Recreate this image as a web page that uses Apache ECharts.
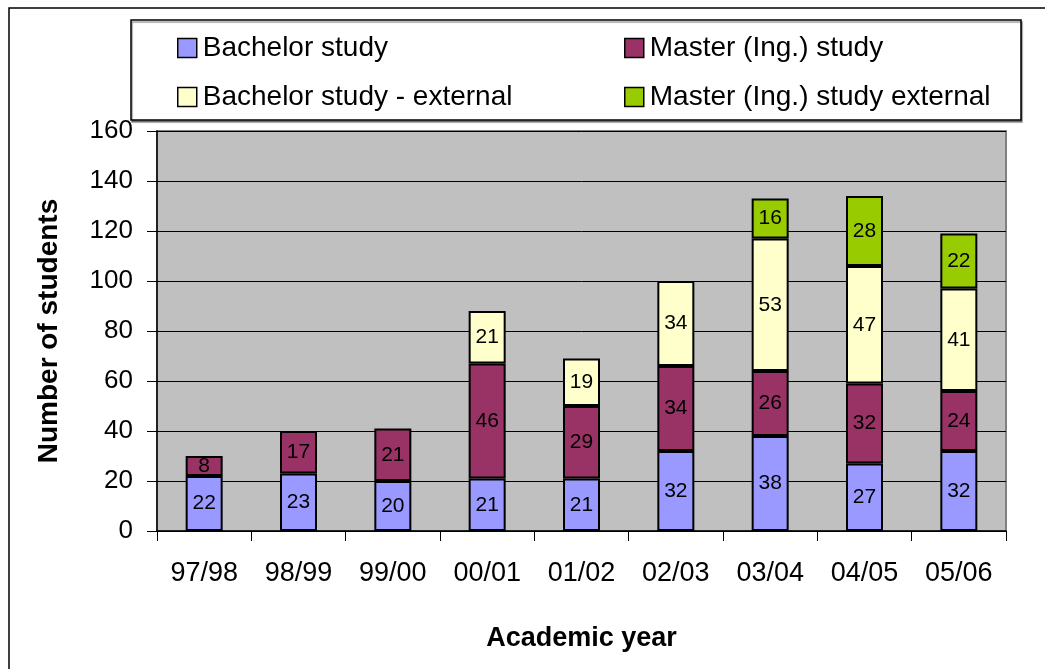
<!DOCTYPE html>
<html>
<head>
<meta charset="utf-8">
<script src="https://cdn.jsdelivr.net/npm/echarts@6/dist/echarts.min.js"></script>
<style>
html,body{margin:0;padding:0;background:#fff;}
#chart{width:1045px;height:669px;}
</style>
</head>
<body>
<div id="chart"></div>
<script>
var categories = ['97/98','98/99','99/00','00/01','01/02','02/03','03/04','04/05','05/06'];
var bachelor = [22,23,20,21,21,32,38,27,32];
var master = [8,17,21,46,29,34,26,32,24];
var bachelorExternal = [null,null,null,21,19,34,53,47,41];
var masterExternal = [null,null,null,null,null,null,16,28,22];
var seriesNames = ['Bachelor study','Master (Ing.) study','Bachelor study - external','Master (Ing.) study external'];
var seriesColors = ['#9999FF','#993366','#FFFFCC','#99CC00'];
var yTicks = [0,20,40,60,80,100,120,140,160];

var font = 'Liberation Sans, Arial, sans-serif';
var chart = echarts.init(document.getElementById('chart'));
var allData = [bachelor, master, bachelorExternal, masterExternal];

function makeSeries(i){
  return {
    name: seriesNames[i],
    type: 'bar',
    stack: 'total',
    data: allData[i],
    barWidth: 37,
    itemStyle: {color: seriesColors[i], borderColor: '#000', borderWidth: 2},
    label: {
      show: true, position: 'inside', color: '#000',
      fontFamily: font, fontSize: 21,
      formatter: function(p){ return p.value == null ? '' : p.value; }
    },
    emphasis: {disabled: true}
  };
}

function makeLegend(names, left){
  return {
    data: names,
    orient: 'vertical', left: left, top: 29,
    itemWidth: 19, itemHeight: 19, itemGap: 21,
    icon: 'rect',
    itemStyle: {borderWidth: 1.5, borderColor: '#000'},
    textStyle: {fontFamily: font, fontSize: 28, color: '#000', lineHeight: 28, padding: [0,0,0,1]},
    selectedMode: false, z: 5
  };
}

chart.setOption({
  animation: false,
  backgroundColor: '#fff',
  graphic: [
    {type: 'rect', shape: {x: 9, y: 8, width: 1100, height: 700}, style: {fill: 'none', stroke: '#000', lineWidth: 1.5}, z: 0},
    {type: 'rect', shape: {x: 131, y: 20, width: 890, height: 100}, style: {fill: '#fff', stroke: '#000', lineWidth: 1.5, shadowColor: 'rgba(0,0,0,0.4)', shadowOffsetX: 1, shadowOffsetY: 2, shadowBlur: 1}, z: 0}
  ],
  grid: {
    left: 157, right: 39, top: 131, bottom: 138,
    show: true, backgroundColor: '#C0C0C0', borderColor: '#808080', borderWidth: 2
  },
  legend: [
    makeLegend([seriesNames[0], seriesNames[2]], 172),
    makeLegend([seriesNames[1], seriesNames[3]], 619)
  ],
  xAxis: {
    type: 'category',
    data: categories,
    boundaryGap: true,
    name: 'Academic year',
    nameLocation: 'middle',
    nameGap: 94,
    nameTextStyle: {fontFamily: font, fontSize: 27, fontWeight: 'bold', color: '#000'},
    axisLine: {lineStyle: {color: '#000', width: 1.5}},
    axisTick: {show: true, alignWithLabel: false, length: 10, lineStyle: {color: '#000'}},
    axisLabel: {fontFamily: font, fontSize: 27, color: '#000', margin: 29, interval: 0}
  },
  yAxis: {
    type: 'value',
    min: yTicks[0], max: yTicks[yTicks.length - 1], interval: 20,
    name: 'Number of students',
    nameLocation: 'middle',
    nameGap: 94,
    nameRotate: 90,
    nameTextStyle: {fontFamily: font, fontSize: 28, fontWeight: 'bold', color: '#000'},
    axisLine: {show: true, lineStyle: {color: '#000', width: 1.5}},
    axisTick: {show: true, length: 10, lineStyle: {color: '#000'}},
    axisLabel: {fontFamily: font, fontSize: 26, color: '#000', margin: 24},
    splitLine: {show: true, lineStyle: {color: '#000', width: 1}}
  },
  series: [makeSeries(0), makeSeries(1), makeSeries(2), makeSeries(3)]
});
</script>
</body>
</html>
